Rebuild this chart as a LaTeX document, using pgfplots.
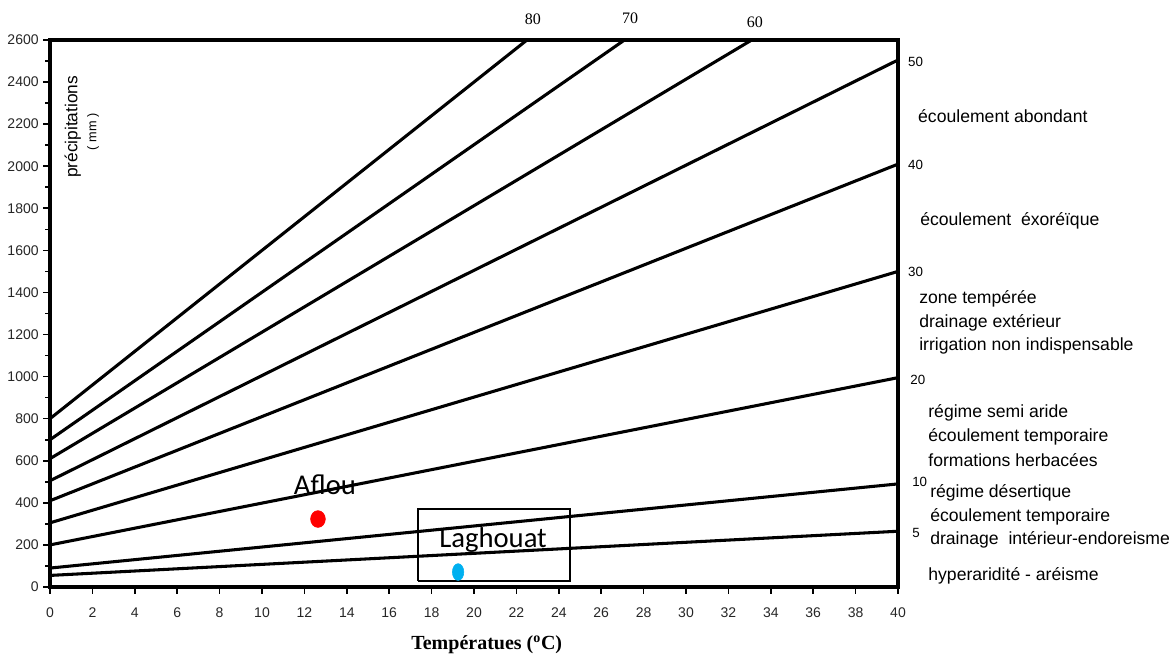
\documentclass[border=0pt]{standalone}
\usepackage{fontspec}
\setmainfont{Liberation Sans}
\newfontfamily\seriffont{Liberation Serif}
\newfontfamily\calfont{Carlito}
\usepackage{pgfplots}
\pgfplotsset{compat=1.18}
\definecolor{dotblue}{RGB}{0,176,240}
\begin{document}
\begin{tikzpicture}[x=1pt,y=1pt]
\path (-37.5pt,-51.75pt) rectangle (844.5pt,440.25pt);
\begin{axis}[
  at={(0,0)}, anchor=south west,
  scale only axis, width=636pt, height=410.25pt,
  xmin=0, xmax=40, ymin=0, ymax=2600,
  xtick={0,2,...,40}, ytick={0,200,...,2600},
  minor y tick num=1,
  tick align=outside, xtick pos=bottom, ytick pos=left,
  major tick length=5pt, minor tick length=3.5pt,
  tick style={line width=1.2pt, black},
  axis line style={line width=2.3pt},
  /pgf/number format/assume math mode=true,
  /pgf/number format/1000 sep={},
  ticklabel style={font=\fontsize{10.5}{12}\selectfont, color=black!85},
  xticklabel style={yshift=-7pt},
  clip=false,
]
% De Martonne lines
\addplot[black, line width=2.3pt] coordinates {(0,800) (22.5,2600)};
\addplot[black, line width=2.3pt] coordinates {(0,700) (27.1,2600)};
\addplot[black, line width=2.3pt] coordinates {(0,610) (33.1,2600)};
\addplot[black, line width=2.3pt] coordinates {(0,505) (40,2505)};
\addplot[black, line width=2.3pt] coordinates {(0,410) (40,2010)};
\addplot[black, line width=2.3pt] coordinates {(0,305) (40,1500)};
\addplot[black, line width=2.3pt] coordinates {(0,200) (40,995)};
\addplot[black, line width=2.3pt] coordinates {(0,90) (40,490)};
\addplot[black, line width=2.3pt] coordinates {(0,55) (40,265)};
% box
\addplot[black, line width=0.9pt] coordinates {(17.36,28.5) (24.53,28.5) (24.53,371) (17.36,371) (17.36,28.5)};
% stations
\addplot[only marks, mark=*, mark size=6.3pt, mark options={xscale=0.88, fill=red, draw=red}] coordinates {(12.64,323)};
\addplot[only marks, mark=*, mark size=6.3pt, mark options={xscale=0.68, fill=dotblue, draw=dotblue}] coordinates {(19.25,71)};
\node[font=\calfont\fontsize{21.5}{24}\selectfont] at (axis cs:12.97,485) {Aflou};
\node[font=\calfont\fontsize{21.5}{24}\selectfont] at (axis cs:20.9,223) {Laghouat};
% top labels
\node[font=\seriffont\fontsize{12}{14}\selectfont] at (axis cs:22.78,2700) {80};
\node[font=\seriffont\fontsize{12}{14}\selectfont] at (axis cs:27.36,2705) {70};
\node[font=\seriffont\fontsize{12}{14}\selectfont] at (axis cs:33.25,2686) {60};
% y label
\node[rotate=90, font=\fontsize{13}{15}\selectfont] at (axis cs:1.08,2187) {précipitations};
\node[rotate=90, font=\fontsize{9.5}{11}\selectfont] at (axis cs:2.03,2163) {( mm )};
% x label
\node[font=\seriffont\bfseries\fontsize{15}{17}\selectfont] at (axis cs:20.6,-276) {Températues (\textsuperscript{o}C)};
% right side index values
\begin{scope}[every node/.style={anchor=west, inner sep=0pt, font=\fontsize{10}{12}\selectfont}]
\node at (axis cs:40.47,2495) {50};
\node at (axis cs:40.47,2006) {40};
\node at (axis cs:40.47,1497) {30};
\node at (axis cs:40.57,984) {20};
\node at (axis cs:40.66,500) {10};
\node at (axis cs:40.66,257) {5};
\end{scope}
\begin{scope}[every node/.style={anchor=west, inner sep=0pt, font=\fontsize{13.2}{15}\selectfont}]
\node at (axis cs:40.94,2239) {écoulement abondant};
\node at (axis cs:41.04,1740) {écoulement\ \ éxoréïque};
\node at (axis cs:40.99,1369) {zone tempérée};
\node at (axis cs:40.99,1255) {drainage extérieur};
\node at (axis cs:40.99,1146) {irrigation non indispensable};
\node at (axis cs:41.42,827) {régime semi aride};
\node at (axis cs:41.42,713) {écoulement temporaire};
\node at (axis cs:41.42,604) {formations herbacées};
\node at (axis cs:41.51,447) {régime désertique};
\node at (axis cs:41.51,333) {écoulement temporaire};
\node at (axis cs:41.51,223) {drainage\ \ intérieur-endoreisme};
\node at (axis cs:41.42,52) {hyperaridité - aréisme};
\end{scope}
\end{axis}
\end{tikzpicture}
\end{document}
